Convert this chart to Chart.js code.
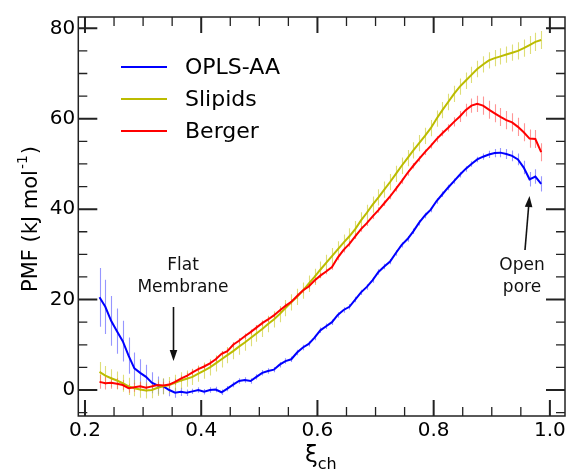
<!DOCTYPE html>
<html>
<head>
<meta charset="utf-8">
<script src="https://cdn.jsdelivr.net/npm/chart.js@4/dist/chart.umd.min.js"></script>
<style>
  html, body { margin: 0; padding: 0; background: #fff; }
  #wrap { width: 569px; height: 473px; }
</style>
</head>
<body>
<div id="wrap"><canvas id="pmfChart" width="569" height="473"></canvas></div>
<script>
// reaction coordinate (xi_ch)
const xi = [0.225,0.235,0.245,0.255,0.265,0.275,0.285,0.295,0.305,0.315,
            0.325,0.335,0.345,0.355,0.365,0.375,0.385,0.395,0.405,0.415,
            0.425,0.435,0.445,0.455,0.465,0.475,0.485,0.495,0.505,0.515,
            0.525,0.535,0.545,0.555,0.565,0.575,0.585,0.595,0.605,0.615,
            0.625,0.635,0.645,0.655,0.665,0.675,0.685,0.695,0.705,0.715,
            0.725,0.735,0.745,0.755,0.765,0.775,0.785,0.795,0.805,0.815,
            0.825,0.835,0.845,0.855,0.865,0.875,0.885,0.895,0.905,0.915,
            0.925,0.935,0.945,0.955,0.965,0.975,0.985];

const oplsAA = [20.5,18.4,15.3,13.0,10.8,7.6,4.8,3.8,2.9,1.6,
                1.0,0.8,0.0,-0.6,-0.4,-0.6,-0.3,0.0,-0.4,0.0,
                0.1,-0.5,0.3,1.2,2.0,2.2,2.0,2.9,3.8,4.2,
                4.5,5.6,6.4,6.8,8.3,9.4,10.2,11.6,13.2,14.1,
                15.0,16.6,17.7,18.4,20.0,21.6,22.8,24.3,26.1,27.3,
                28.4,30.3,32.1,33.4,35.1,37.0,38.6,39.9,41.8,43.3,
                44.8,46.2,47.6,48.9,50.0,51.0,51.6,52.1,52.4,52.5,
                52.2,51.8,51.0,49.2,46.6,47.2,45.6];
const oplsErr = [6.5,6.0,5.5,5.0,4.5,4.0,3.5,3.0,2.7,2.3,
                 2.0,1.7,1.4,1.1,0.9,0.7,0.6,0.6,0.6,0.6,
                 0.6,0.6,0.6,0.6,0.6,0.6,0.6,0.6,0.6,0.6,
                 0.6,0.6,0.6,0.6,0.6,0.6,0.6,0.6,0.6,0.6,
                 0.6,0.6,0.6,0.6,0.6,0.6,0.6,0.6,0.6,0.6,
                 0.6,0.6,0.6,0.6,0.6,0.6,0.6,0.6,0.6,0.6,
                 0.6,0.6,0.6,0.6,0.6,0.6,0.7,0.8,0.9,1.0,
                 1.1,1.2,1.3,1.5,1.6,1.6,1.7];

const slipids = [4.0,3.2,2.6,2.1,1.5,0.8,0.4,0.1,-0.1,0.0,
                 0.5,0.8,1.1,1.6,2.1,2.5,2.9,3.6,4.3,5.0,
                 5.9,6.8,7.7,8.6,9.6,10.5,11.5,12.5,13.5,14.6,
                 15.6,16.8,18.1,19.4,20.6,22.0,23.5,25.0,26.6,28.1,
                 29.6,31.1,32.6,34.0,35.6,37.5,39.2,41.0,42.6,44.3,
                 46.0,47.8,49.6,51.3,53.0,54.6,56.2,57.9,60.0,61.9,
                 63.7,65.5,67.1,68.4,69.7,71.0,72.0,72.9,73.4,73.8,
                 74.2,74.6,75.0,75.6,76.3,77.0,77.4];
const slipidsErr = [2.2,2.1,2.0,2.0,1.9,1.9,1.8,1.8,1.8,1.8,
                    1.8,1.8,1.8,1.8,1.8,1.8,1.8,1.8,1.8,1.8,
                    1.8,1.8,1.8,1.8,1.8,1.8,1.8,1.8,1.8,1.8,
                    1.8,1.8,1.8,1.8,1.8,1.8,1.8,1.8,1.8,1.8,
                    1.8,1.8,1.8,1.8,1.8,1.8,1.8,1.8,1.8,1.8,
                    1.8,1.8,1.8,1.8,1.8,1.8,1.8,1.8,1.8,1.8,
                    1.8,1.8,1.8,1.8,1.8,1.8,1.8,1.8,1.8,1.8,
                    1.8,1.8,1.9,1.9,2.0,2.0,2.0];

const berger = [1.8,1.5,1.6,1.4,1.1,0.4,0.6,0.8,0.5,0.8,
                1.1,1.0,1.2,1.8,2.5,3.1,3.9,4.6,5.2,5.9,
                6.8,8.0,8.6,10.0,10.9,11.9,12.8,13.8,14.8,15.6,
                16.5,17.6,18.6,19.5,20.8,22.0,22.9,24.2,25.3,26.2,
                27.2,29.3,31.0,32.3,34.0,35.6,36.9,38.4,39.8,41.3,
                42.8,44.5,46.2,48.0,49.6,51.1,52.6,54.0,55.5,56.8,
                58.0,59.3,60.5,61.9,62.9,63.3,62.9,62.0,61.2,60.4,
                59.7,59.2,58.2,57.0,55.6,55.5,52.6];
const bergerErr = [1.5,1.4,1.3,1.2,1.1,1.0,1.0,1.0,0.9,0.9,
                   0.8,0.8,0.8,0.7,0.7,0.7,0.7,0.6,0.6,0.6,
                   0.6,0.6,0.6,0.6,0.6,0.6,0.6,0.6,0.6,0.6,
                   0.6,0.6,0.6,0.6,0.6,0.6,0.6,0.6,0.6,0.6,
                   0.6,0.6,0.6,0.6,0.6,0.6,0.6,0.6,0.6,0.6,
                   0.6,0.6,0.6,0.6,0.6,0.6,0.6,0.6,0.7,0.7,
                   0.8,1.0,1.2,1.4,1.6,1.8,2.0,2.0,2.0,2.0,
                   2.0,2.0,2.0,2.0,2.0,2.0,2.0];

const xMajor = [0.2, 0.4, 0.6, 0.8, 1.0];
const xMinor = [0.25, 0.3, 0.35, 0.45, 0.5, 0.55, 0.65, 0.7, 0.75, 0.85, 0.9, 0.95];
const yMajor = [0, 20, 40, 60, 80];
const yMinor = [-5, 5, 10, 15, 25, 30, 35, 45, 50, 55, 65, 70, 75];

const FONT = "'DejaVu Sans', Verdana, sans-serif";

function pts(ys) {
  return xi.map((x, i) => ({ x: x, y: ys[i] }));
}

const series = [
  { label: 'OPLS-AA', data: oplsAA, err: oplsErr, color: '#0000ff', light: 'rgba(80,80,255,0.6)', order: 2 },
  { label: 'Slipids', data: slipids, err: slipidsErr, color: '#bcbc00', light: 'rgba(200,200,30,0.6)', order: 1 },
  { label: 'Berger', data: berger, err: bergerErr, color: '#ff0000', light: 'rgba(255,80,80,0.6)', order: 0 }
];

// vertical error bars, drawn under the curves
const errorBars = {
  id: 'errorBars',
  beforeDatasetsDraw(chart) {
    const { ctx, chartArea: a, scales: { x, y } } = chart;
    ctx.save();
    ctx.beginPath();
    ctx.rect(a.left, a.top, a.right - a.left, a.bottom - a.top);
    ctx.clip();
    ctx.lineWidth = 1.1;
    series.forEach(s => {
      ctx.strokeStyle = s.light;
      xi.forEach((xv, i) => {
        const px = Math.round(x.getPixelForValue(xv)) + 0.5;
        ctx.beginPath();
        ctx.moveTo(px, y.getPixelForValue(s.data[i] - s.err[i]));
        ctx.lineTo(px, y.getPixelForValue(s.data[i] + s.err[i]));
        ctx.stroke();
      });
    });
    ctx.restore();
  }
};

function arrow(ctx, x0, y0, x1, y1) {
  const ang = Math.atan2(y1 - y0, x1 - x0);
  const hl = 11, hw = 3.8;
  const bx = x1 - hl * Math.cos(ang), by = y1 - hl * Math.sin(ang);
  ctx.beginPath();
  ctx.moveTo(x0, y0);
  ctx.lineTo(bx, by);
  ctx.stroke();
  ctx.beginPath();
  ctx.moveTo(x1, y1);
  ctx.lineTo(bx + hw * Math.sin(ang), by - hw * Math.cos(ang));
  ctx.lineTo(bx - hw * Math.sin(ang), by + hw * Math.cos(ang));
  ctx.closePath();
  ctx.fill();
}

// frame, inward ticks on all sides, legend, titles and notes
const decorations = {
  id: 'decorations',
  afterDraw(chart) {
    const { ctx, chartArea: a, scales: { x, y } } = chart;
    ctx.save();
    ctx.strokeStyle = '#222';
    ctx.lineWidth = 1.5;
    ctx.strokeRect(a.left, a.top, a.right - a.left, a.bottom - a.top);

    const tick = (vals, len, w, horiz) => {
      ctx.lineWidth = w;
      vals.forEach(v => {
        ctx.beginPath();
        if (horiz) {
          const p = x.getPixelForValue(v);
          ctx.moveTo(p, a.bottom); ctx.lineTo(p, a.bottom - len);
          ctx.moveTo(p, a.top); ctx.lineTo(p, a.top + len);
        } else {
          const p = y.getPixelForValue(v);
          ctx.moveTo(a.left, p); ctx.lineTo(a.left + len, p);
          ctx.moveTo(a.right, p); ctx.lineTo(a.right - len, p);
        }
        ctx.stroke();
      });
    };
    tick(xMajor, 16, 2, true);
    tick(xMinor, 9, 1.3, true);
    tick(yMajor, 19, 2, false);
    tick(yMinor, 9, 1.3, false);

    // legend
    ctx.font = '22px ' + FONT;
    ctx.textBaseline = 'middle';
    ctx.textAlign = 'left';
    series.forEach((s, i) => {
      const ly = 67 + i * 32;
      ctx.strokeStyle = s.color;
      ctx.lineWidth = 2;
      ctx.beginPath();
      ctx.moveTo(121, ly); ctx.lineTo(167, ly);
      ctx.stroke();
      ctx.fillStyle = '#000';
      ctx.fillText(s.label, 185, ly + 1);
    });

    // annotations
    ctx.fillStyle = '#111';
    ctx.strokeStyle = '#111';
    ctx.lineWidth = 1.6;
    ctx.font = '17px ' + FONT;
    ctx.textAlign = 'center';
    ctx.textBaseline = 'alphabetic';
    ctx.fillText('Flat', 183, 270);
    ctx.fillText('Membrane', 183, 292);
    arrow(ctx, 173.5, 307, 173.5, 361);
    ctx.fillText('Open', 522, 270);
    ctx.fillText('pore', 522, 292);
    arrow(ctx, 525, 250, 529.5, 196);

    // y axis title
    ctx.save();
    ctx.translate(37, 292);
    ctx.rotate(-Math.PI / 2);
    ctx.textAlign = 'left';
    ctx.fillStyle = '#000';
    ctx.font = '21px ' + FONT;
    let t = 'PMF (kJ mol';
    ctx.fillText(t, 0, 0);
    let w = ctx.measureText(t).width;
    ctx.font = '14px ' + FONT;
    ctx.fillText('-1', w + 1, -10);
    w += ctx.measureText('-1').width + 2;
    ctx.font = '21px ' + FONT;
    ctx.fillText(')', w, 0);
    ctx.restore();

    // x axis title
    ctx.textAlign = 'left';
    ctx.fillStyle = '#000';
    ctx.font = '23px ' + FONT;
    ctx.fillText('\u03be', 305, 462);
    const xw = ctx.measureText('\u03be').width;
    ctx.font = '16px ' + FONT;
    ctx.fillText('ch', 305 + xw, 469);
    ctx.restore();
  }
};

const config = {
  type: 'line',
  data: {
    datasets: series.map(s => ({
      label: s.label,
      data: pts(s.data),
      borderColor: s.color,
      backgroundColor: s.color,
      borderWidth: 2,
      pointRadius: 0,
      tension: 0,
      fill: false,
      order: s.order
    }))
  },
  options: {
    responsive: false,
    animation: false,
    devicePixelRatio: 1,
    layout: { padding: { left: 0, right: 4, top: 17, bottom: 0 } },
    plugins: { legend: { display: false }, tooltip: { enabled: false } },
    scales: {
      x: {
        type: 'linear',
        min: 0.1885,
        max: 1.026,
        grid: { display: false, drawTicks: false },
        border: { display: false },
        afterBuildTicks: scale => { scale.ticks = xMajor.map(v => ({ value: v })); },
        afterFit: scale => { scale.height = 57; },
        ticks: {
          padding: 3,
          maxRotation: 0,
          color: '#000',
          font: { family: FONT, size: 20 },
          callback: v => Number(v).toFixed(1)
        }
      },
      y: {
        type: 'linear',
        min: -5.75,
        max: 82.5,
        grid: { display: false, drawTicks: false },
        border: { display: false },
        afterBuildTicks: scale => { scale.ticks = yMajor.map(v => ({ value: v })); },
        afterFit: scale => { scale.width = 78.3; },
        ticks: {
          padding: 3,
          color: '#000',
          font: { family: FONT, size: 20 },
          callback: v => String(v)
        }
      }
    }
  },
  plugins: [errorBars, decorations]
};

const pmfChart = new Chart(document.getElementById('pmfChart'), config);
</script>
</body>
</html>
